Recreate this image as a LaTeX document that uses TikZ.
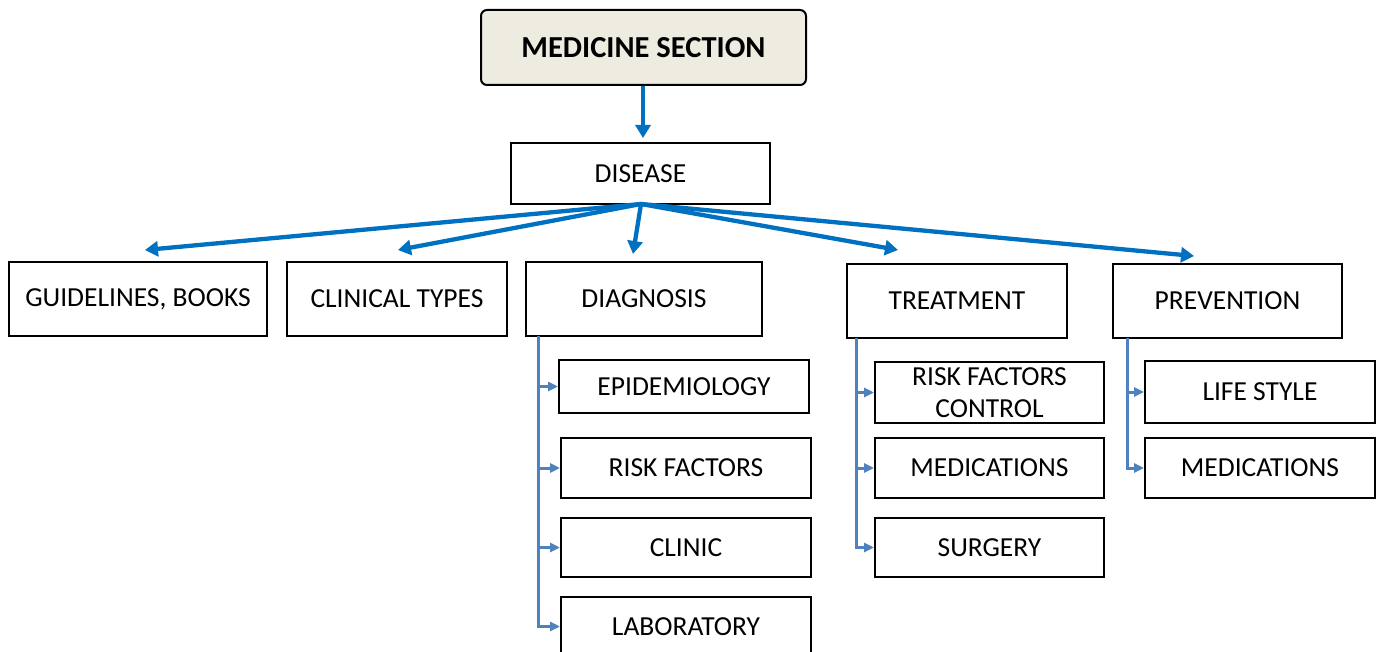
\documentclass[tikz,border=0pt]{standalone}
\usepackage{fontspec}
\setmainfont{Carlito}
\usetikzlibrary{arrows.meta}
\definecolor{mainblue}{RGB}{0,112,192}
\definecolor{subblue}{RGB}{79,129,189}
\definecolor{headfill}{RGB}{238,236,225}
\tikzstyle{box}=[draw=black, line width=2pt, inner sep=2pt, align=center, font=\fontsize{27.5}{32}\selectfont]
\tikzstyle{mainarrow}=[mainblue, line width=4.3pt, -{Triangle[length=13pt,width=15pt]}]
\tikzstyle{subarrow}=[subblue, line width=3pt, -{Triangle[length=10pt,width=9pt]}]

\begin{document}
\begin{tikzpicture}[x=1pt, y=-1pt]

\clip (0,0) rectangle (1382,652);
\useasboundingbox (0,0) rectangle (1382,652);

% top level
\node[box, rounded corners=6pt, fill=headfill, minimum width=325pt, minimum height=75pt, font=\fontsize{30.5}{34}\selectfont\bfseries] (med) at (643.5,47.5) {MEDICINE SECTION};
\node[box, minimum width=259pt, minimum height=61pt] (dis) at (640.5,173.5) {DISEASE};

% second level
\node[box, minimum width=258pt, minimum height=74pt] (guide) at (138,299) {GUIDELINES, BOOKS};
\node[box, minimum width=220pt, minimum height=74pt] (clin) at (397,299) {CLINICAL TYPES};
\node[box, minimum width=236pt, minimum height=74pt] (diag) at (644,299) {DIAGNOSIS};
\node[box, minimum width=220pt, minimum height=74pt] (treat) at (957,301) {TREATMENT};
\node[box, minimum width=229pt, minimum height=74pt] (prev) at (1227.5,301) {PREVENTION};

% diagnosis
\node[box, minimum width=250pt, minimum height=53pt] (epid) at (684,386.5) {EPIDEMIOLOGY};
\node[box, minimum width=250pt, minimum height=60pt] (risk) at (686,468) {RISK FACTORS};
\node[box, minimum width=250pt, minimum height=59pt] (clinic) at (686,547.5) {CLINIC};
\node[box, minimum width=250pt, minimum height=59pt] (lab) at (686,626.5) {LABORATORY};

% treatment
\node[box, minimum width=229pt, minimum height=61pt, inner sep=0pt] (rfc) at (989.5,392.5) {RISK FACTORS\\CONTROL};
\node[box, minimum width=229pt, minimum height=60pt] (tmed) at (989.5,468) {MEDICATIONS};
\node[box, minimum width=229pt, minimum height=59pt] (surg) at (989.5,547.5) {SURGERY};

% prevention
\node[box, minimum width=230pt, minimum height=62pt] (life) at (1260,392) {LIFE STYLE};
\node[box, minimum width=230pt, minimum height=60pt] (pmed) at (1260,468) {MEDICATIONS};

% arrow ends
\coordinate (dtop) at (643,138);
\coordinate (dout) at (641,204);
\coordinate (eguide) at (145,250);
\coordinate (eclin) at (398,250);
\coordinate (ediag) at (633,254);
\coordinate (etreat) at (898,250);
\coordinate (eprev) at (1194,256);
\coordinate (dtrunk) at (538,336);
\coordinate (ttrunk) at (856,338);
\coordinate (ptrunk) at (1127,338);

\draw[mainarrow] (med.south -| dtop) -- (dtop);
\draw[mainarrow] (dout) -- (eguide);
\draw[mainarrow] (dout) -- (eclin);
\draw[mainarrow] (dout) -- (ediag);
\draw[mainarrow] (dout) -- (etreat);
\draw[mainarrow] (dout) -- (eprev);

\draw[subarrow] (dtrunk) |- (epid.west);
\draw[subarrow] (dtrunk) |- (risk.west);
\draw[subarrow] (dtrunk) |- (clinic.west);
\draw[subarrow] (dtrunk) |- (lab.west);

\draw[subarrow] (ttrunk) |- (rfc.west);
\draw[subarrow] (ttrunk) |- (tmed.west);
\draw[subarrow] (ttrunk) |- (surg.west);

\draw[subarrow] (ptrunk) |- (life.west);
\draw[subarrow] (ptrunk) |- (pmed.west);

\end{tikzpicture}
\end{document}
